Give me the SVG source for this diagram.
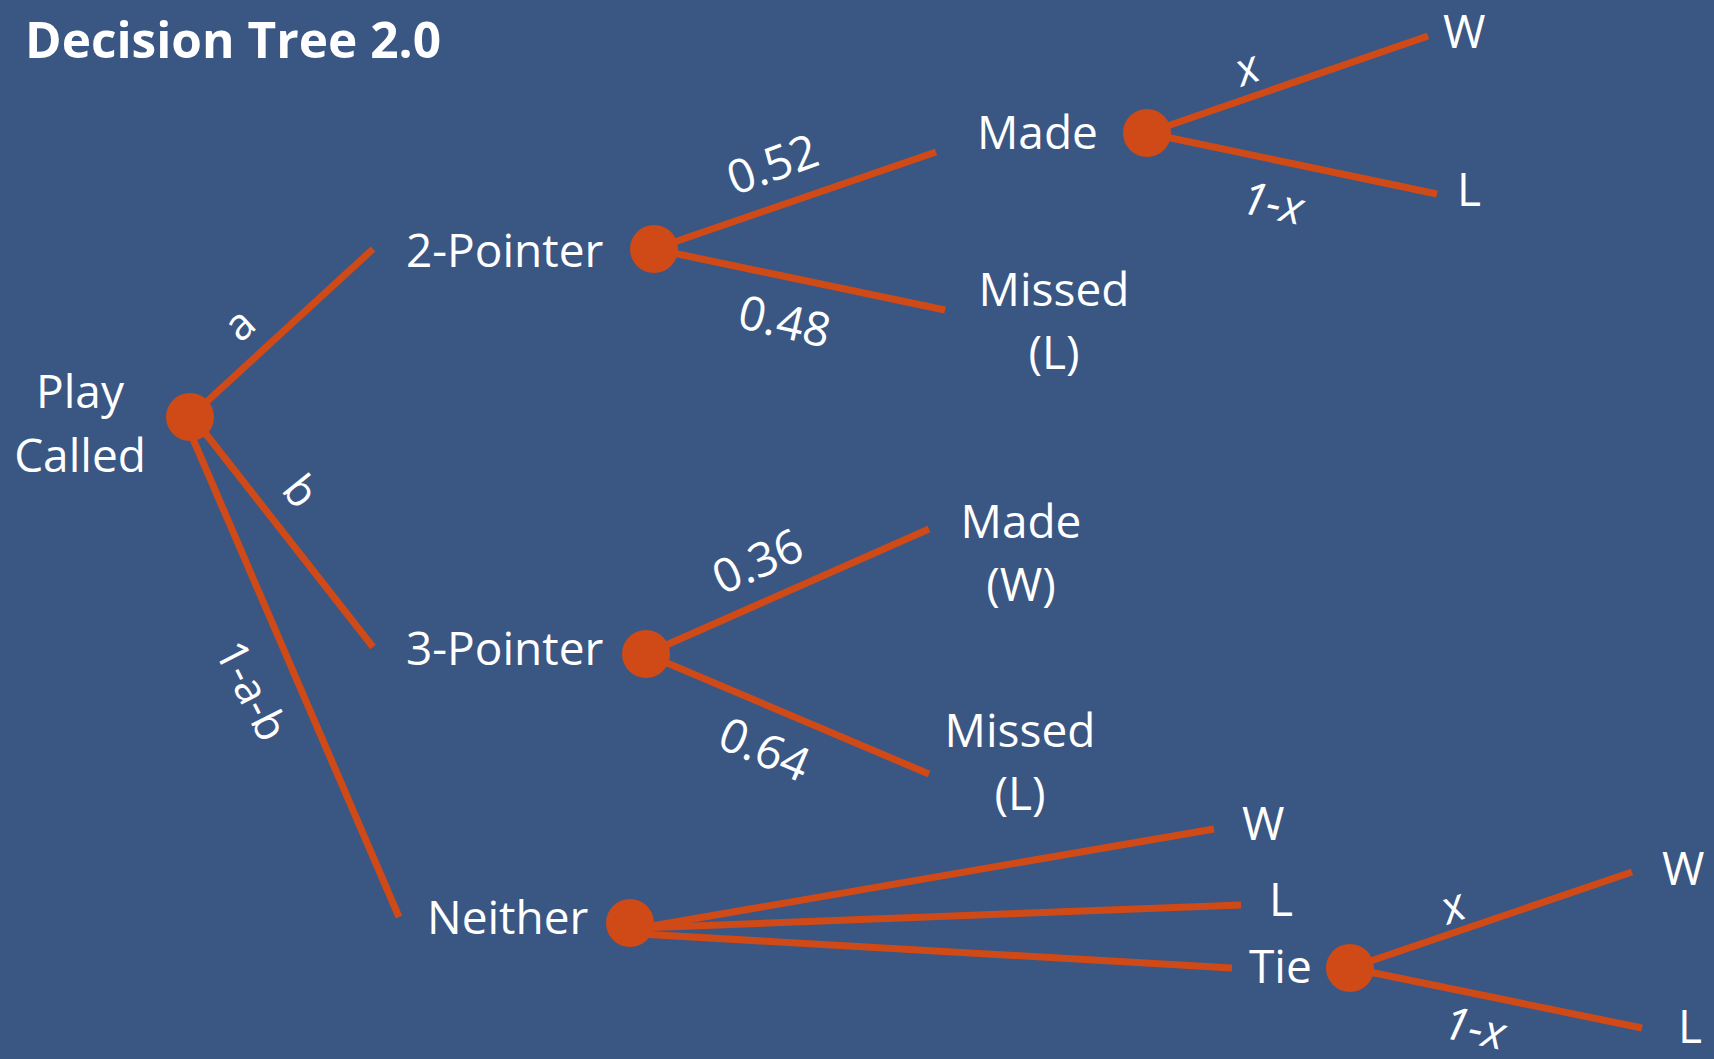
<svg xmlns="http://www.w3.org/2000/svg" width="1714" height="1059" viewBox="0 0 1714 1059">
<style>
.bg{fill:#3A5683}
.dot{fill:#D04A17}
.edge{stroke:#D04A17;stroke-width:7;fill:none;stroke-linecap:butt}
.t{font-family:"Open Sans","Noto Sans","Liberation Sans",sans-serif;font-size:46px;fill:#FFFFFF}
.m{text-anchor:middle}
.lbl{font-family:"Open Sans","Noto Sans","Liberation Sans",sans-serif;font-size:44px;fill:#FFFFFF;text-anchor:middle;dominant-baseline:central}
.num{font-size:47px}
.it{font-style:italic;font-size:46px}
.title{font-family:"Open Sans","Noto Sans","Liberation Sans",sans-serif;font-size:50px;font-weight:bold;fill:#FFFFFF}
</style>
<rect class="bg" x="0" y="0" width="1714" height="1059"/>
<text class="title" x="25" y="58" textLength="416" lengthAdjust="spacingAndGlyphs">Decision Tree 2.0</text>

<g id="connectors">
  <line class="edge" x1="190" y1="417" x2="373" y2="249"/>
  <line class="edge" x1="195" y1="420" x2="373" y2="647"/>
  <line class="edge" x1="190" y1="432" x2="399" y2="917"/>
  <line class="edge" x1="654" y1="249" x2="936" y2="152"/>
  <line class="edge" x1="654" y1="249" x2="945" y2="310"/>
  <line class="edge" x1="1147" y1="133" x2="1428" y2="36"/>
  <line class="edge" x1="1147" y1="133" x2="1437" y2="194"/>
  <line class="edge" x1="646" y1="654" x2="929" y2="529"/>
  <line class="edge" x1="646" y1="654" x2="929" y2="774"/>
  <line class="edge" x1="640" y1="928" x2="1214" y2="829"/>
  <line class="edge" x1="640" y1="928" x2="1241" y2="905"/>
  <line class="edge" x1="640" y1="934" x2="1232" y2="968"/>
  <line class="edge" x1="1350" y1="968" x2="1632" y2="872"/>
  <line class="edge" x1="1350" y1="968" x2="1642" y2="1028"/>
  <text class="lbl" transform="translate(238,323) rotate(-42)">a</text>
  <text class="lbl" transform="translate(302,490) rotate(51)">b</text>
  <text class="lbl" transform="translate(253,690) rotate(63)">1-a-b</text>
  <text class="lbl num" transform="translate(772,163) rotate(-20)">0.52</text>
  <text class="lbl num" transform="translate(785,320) rotate(13)">0.48</text>
  <text class="lbl num" transform="translate(757,560) rotate(-24)">0.36</text>
  <text class="lbl num" transform="translate(765,748) rotate(23)">0.64</text>
  <text class="lbl it" transform="translate(1246,66) rotate(-20)">x</text>
  <text class="lbl it" transform="translate(1273,201) rotate(12)">1-x</text>
  <text class="lbl it" transform="translate(1452,904) rotate(-20)">x</text>
  <text class="lbl it" transform="translate(1475,1026) rotate(12)">1-x</text>
</g>

<g id="play-called">
  <circle class="dot" cx="190" cy="417" r="24"/>
  <text class="t m" x="80" y="408">Play</text>
  <text class="t m" x="80" y="472">Called</text>
</g>
<g id="two-pointer">
  <circle class="dot" cx="654" cy="249" r="24"/>
  <text class="t" x="406" y="267">2-Pointer</text>
</g>
<g id="three-pointer">
  <circle class="dot" cx="646" cy="654" r="24"/>
  <text class="t" x="406" y="665">3-Pointer</text>
</g>
<g id="neither">
  <circle class="dot" cx="630" cy="923" r="24"/>
  <text class="t" x="427" y="934">Neither</text>
</g>
<g id="made-2pt">
  <circle class="dot" cx="1147" cy="133" r="24"/>
  <text class="t" x="977" y="149">Made</text>
</g>
<g id="missed-2pt">
  <text class="t m" x="1054" y="306">Missed</text>
  <text class="t m" x="1054" y="369">(L)</text>
</g>
<g id="made-w-top"><text class="t" x="1443" y="48">W</text></g>
<g id="made-l-top"><text class="t" x="1457" y="206">L</text></g>
<g id="made-3pt">
  <text class="t m" x="1021" y="538">Made</text>
  <text class="t m" x="1021" y="601">(W)</text>
</g>
<g id="missed-3pt">
  <text class="t m" x="1020" y="747">Missed</text>
  <text class="t m" x="1020" y="810">(L)</text>
</g>
<g id="neither-w"><text class="t" x="1242" y="840">W</text></g>
<g id="neither-l"><text class="t" x="1269" y="916">L</text></g>
<g id="tie">
  <circle class="dot" cx="1350" cy="968" r="24"/>
  <text class="t" x="1249" y="983">Tie</text>
</g>
<g id="tie-w"><text class="t" x="1662" y="885">W</text></g>
<g id="tie-l"><text class="t" x="1678" y="1043">L</text></g>
</svg>
